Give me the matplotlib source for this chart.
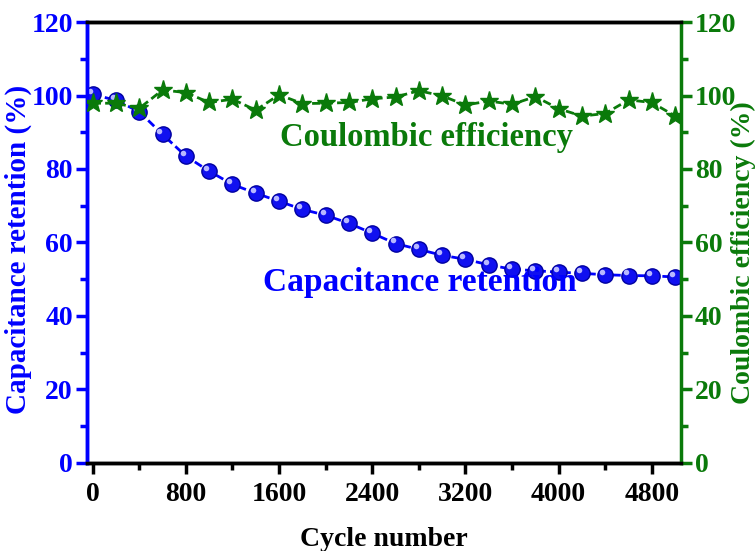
import matplotlib
matplotlib.use("Agg")
import matplotlib.pyplot as plt
from matplotlib.ticker import MultipleLocator
from matplotlib.transforms import offset_copy

cycles = list(range(0, 5001, 200))
retention = [100.3, 98.7, 95.6, 89.4, 83.5, 79.4, 75.8, 73.4, 71.2, 69.0, 67.4, 65.2,
             62.5, 59.7, 58.1, 56.5, 55.4, 53.9, 52.7, 52.3, 51.9, 51.6, 51.2, 51.0, 50.9, 50.6]
efficiency = [97.9, 97.9, 96.5, 101.5, 100.8, 98.1, 99.0, 96.0, 100.2, 97.8, 97.9, 98.1,
              99.1, 99.6, 101.3, 99.9, 97.4, 98.5, 97.6, 99.7, 96.4, 94.4, 95.1, 98.8, 98.1, 94.4]

BLUE = "#0000ff"
GREEN = "#0a7a0a"
plt.rcParams['font.family'] = ['Liberation Serif', 'DejaVu Serif']
plt.rcParams['font.weight'] = 'bold'

fig = plt.figure(figsize=(7.55, 5.51), dpi=100)
ax = fig.add_axes([0.115, 0.160, 0.787, 0.800])
ax2 = ax.twinx()

ax.plot(cycles, retention, linestyle=(0, (3, 1.5)), color=BLUE, lw=2,
        marker='o', markersize=11, markerfacecolor="#1010f0", markeredgecolor="#0000a0",
        markeredgewidth=1, zorder=3)
hl = offset_copy(ax.transData, fig=fig, x=-2.2, y=2.2, units='points')
ax.plot(cycles, retention, linestyle='none', marker='o', markersize=4,
        markerfacecolor="#b8b8ff", markeredgecolor='none', transform=hl, zorder=4)
ax2.plot(cycles, efficiency, linestyle=(0, (3, 1.5)), color=GREEN, lw=2,
         marker='*', markersize=14, markerfacecolor=GREEN, markeredgecolor=GREEN, zorder=3)

ax.set_xlim(-50, 5050)
ax.set_ylim(0, 120)
ax2.set_ylim(0, 120)
ax.xaxis.set_major_locator(MultipleLocator(800))
ax.xaxis.set_minor_locator(MultipleLocator(400))
for a in (ax, ax2):
    a.yaxis.set_major_locator(MultipleLocator(20))
    a.yaxis.set_minor_locator(MultipleLocator(10))

for s in ('top', 'bottom'):
    ax.spines[s].set_linewidth(2.5)
    ax2.spines[s].set_linewidth(2.5)
    ax2.spines[s].set_color('black')
ax2.spines['left'].set_color(BLUE)
ax2.spines['left'].set_linewidth(2.5)
ax2.spines['right'].set_color(GREEN)
ax2.spines['right'].set_linewidth(2.5)
ax.spines['left'].set_color(BLUE)
ax.spines['left'].set_linewidth(2.5)

ax.tick_params(axis='x', which='major', direction='out', length=8, width=2.5,
               colors='black', labelsize=20, pad=6)
ax.tick_params(axis='x', which='minor', direction='out', length=5, width=2.5, colors='black')
ax.tick_params(axis='y', which='major', direction='out', length=8, width=2.5,
               colors=BLUE, labelsize=20, pad=2)
ax.tick_params(axis='y', which='minor', direction='out', length=5, width=2.5, colors=BLUE)
ax2.tick_params(axis='y', which='major', direction='out', length=8, width=2.5,
                colors=GREEN, labelsize=20, pad=2)
ax2.tick_params(axis='y', which='minor', direction='out', length=5, width=2.5, colors=GREEN)

for lab in ax.get_xticklabels() + ax.get_yticklabels() + ax2.get_yticklabels():
    lab.set_fontweight('bold')

ax.set_xlabel("Cycle number", fontsize=20, fontweight='bold', color='black', labelpad=14)
ax.set_ylabel("Capacitance retention (%)", fontsize=21, fontweight='bold', color=BLUE)
ax2.set_ylabel("Coulombic efficiency (%)", fontsize=20, fontweight='bold', color=GREEN)
ax.yaxis.set_label_coords(-0.0926, 0.485)
ax2.yaxis.set_label_coords(1.0835, 0.478)

ax.text(0.571, 0.737, "Coulombic efficiency", transform=ax.transAxes, ha='center', va='center',
        fontsize=23.5, fontweight='bold', color=GREEN)
ax.text(0.561, 0.408, "Capacitance retention", transform=ax.transAxes, ha='center', va='center',
        fontsize=24, fontweight='bold', color=BLUE)

fig.savefig("out.png", dpi=100)
